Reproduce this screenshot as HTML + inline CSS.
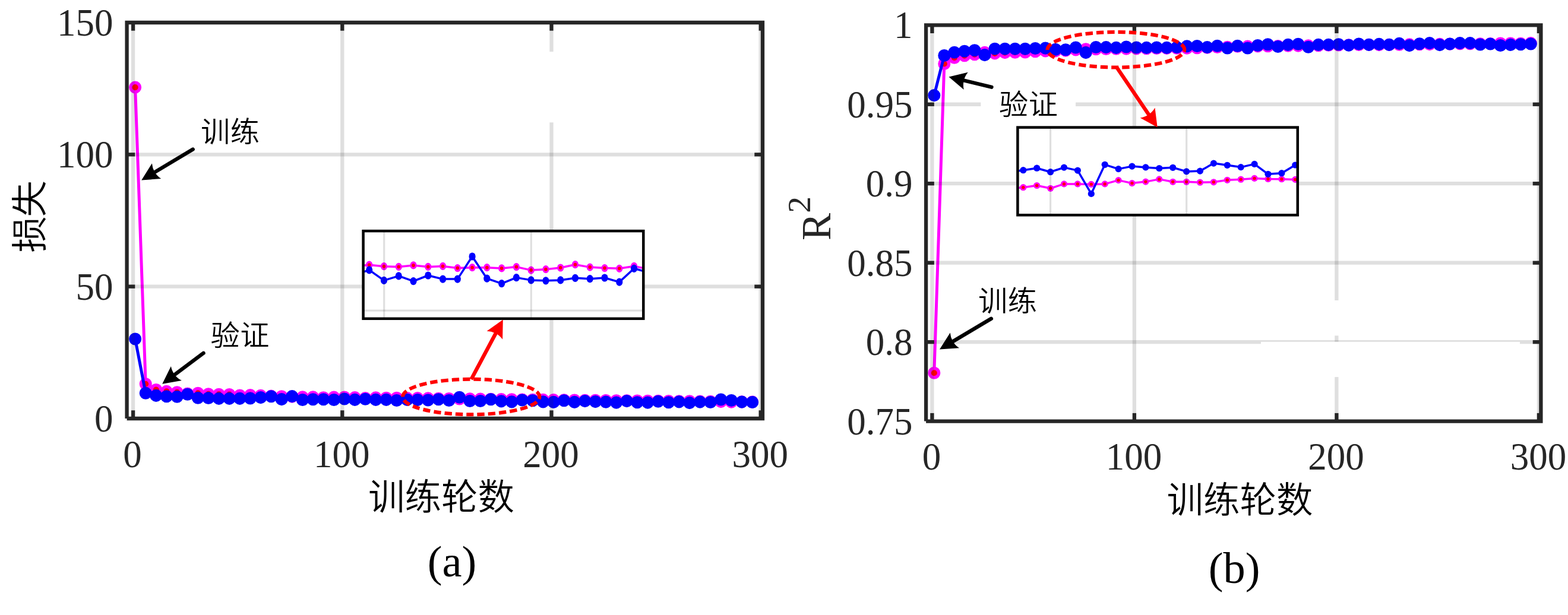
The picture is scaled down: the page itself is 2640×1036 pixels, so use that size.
<!DOCTYPE html>
<html lang="zh-CN"><head><meta charset="utf-8"><title>训练与验证曲线</title>
<style>html,body{margin:0;padding:0;background:#fff;}body{width:2640px;height:1036px;overflow:hidden;}svg{display:block;}text{white-space:pre;}</style>
</head><body>
<svg width="2640" height="1036" viewBox="0 0 2640 1036">
<rect x="0" y="0" width="2640" height="1036" fill="#ffffff"/>
<g>
<polyline points="227.62,147.1 245.23,646.8 262.84,656.5 280.45,659.4 298.06,660.8 315.67,663 333.28,662.3 350.89,663.7 368.5,664.3 386.11,664.5 403.72,666 421.33,665.6 438.94,666.4 456.55,667.1 474.16,667.7 491.77,668.1 509.38,668.9 526.99,668.9 544.6,669.7 562.21,669.1 579.82,669 597.43,669.6 615.04,670.6 632.65,669.9 650.26,670.3 667.87,670.3 685.48,670.6 703.09,670.6 720.7,670.9 738.31,671.2 755.92,671.5 773.53,672 791.14,671.9 808.75,672.1 826.36,672.3 843.97,672.6 861.58,672.8 879.19,673 896.8,673.2 914.41,673.4 932.02,673.6 949.63,673.8 967.24,674 984.85,674.2 1002.46,674.3 1020.07,674.5 1037.68,674.7 1055.29,674.8 1072.9,675 1090.51,675.2 1108.12,675.3 1125.73,675.5 1143.34,675.7 1160.95,675.8 1178.56,676 1196.17,676.2 1213.78,676.6 1231.39,677.1 1249,676.9 1266.61,677.1" fill="none" stroke="#ff00ff" stroke-width="5" stroke-linejoin="round" />
<circle cx="227.62" cy="147.1" r="7.8" fill="#ff0000" stroke="#ff00ff" stroke-width="5.5"/>
<circle cx="245.23" cy="646.8" r="7.8" fill="#ff0000" stroke="#ff00ff" stroke-width="5.5"/>
<circle cx="262.84" cy="656.5" r="7.8" fill="#ff0000" stroke="#ff00ff" stroke-width="5.5"/>
<circle cx="280.45" cy="659.4" r="7.8" fill="#ff0000" stroke="#ff00ff" stroke-width="5.5"/>
<circle cx="298.06" cy="660.8" r="7.8" fill="#ff0000" stroke="#ff00ff" stroke-width="5.5"/>
<circle cx="315.67" cy="663" r="7.8" fill="#ff0000" stroke="#ff00ff" stroke-width="5.5"/>
<circle cx="333.28" cy="662.3" r="7.8" fill="#ff0000" stroke="#ff00ff" stroke-width="5.5"/>
<circle cx="350.89" cy="663.7" r="7.8" fill="#ff0000" stroke="#ff00ff" stroke-width="5.5"/>
<circle cx="368.5" cy="664.3" r="7.8" fill="#ff0000" stroke="#ff00ff" stroke-width="5.5"/>
<circle cx="386.11" cy="664.5" r="7.8" fill="#ff0000" stroke="#ff00ff" stroke-width="5.5"/>
<circle cx="403.72" cy="666" r="7.8" fill="#ff0000" stroke="#ff00ff" stroke-width="5.5"/>
<circle cx="421.33" cy="665.6" r="7.8" fill="#ff0000" stroke="#ff00ff" stroke-width="5.5"/>
<circle cx="438.94" cy="666.4" r="7.8" fill="#ff0000" stroke="#ff00ff" stroke-width="5.5"/>
<circle cx="456.55" cy="667.1" r="7.8" fill="#ff0000" stroke="#ff00ff" stroke-width="5.5"/>
<circle cx="474.16" cy="667.7" r="7.8" fill="#ff0000" stroke="#ff00ff" stroke-width="5.5"/>
<circle cx="491.77" cy="668.1" r="7.8" fill="#ff0000" stroke="#ff00ff" stroke-width="5.5"/>
<circle cx="509.38" cy="668.9" r="7.8" fill="#ff0000" stroke="#ff00ff" stroke-width="5.5"/>
<circle cx="526.99" cy="668.9" r="7.8" fill="#ff0000" stroke="#ff00ff" stroke-width="5.5"/>
<circle cx="544.6" cy="669.7" r="7.8" fill="#ff0000" stroke="#ff00ff" stroke-width="5.5"/>
<circle cx="562.21" cy="669.1" r="7.8" fill="#ff0000" stroke="#ff00ff" stroke-width="5.5"/>
<circle cx="579.82" cy="669" r="7.8" fill="#ff0000" stroke="#ff00ff" stroke-width="5.5"/>
<circle cx="597.43" cy="669.6" r="7.8" fill="#ff0000" stroke="#ff00ff" stroke-width="5.5"/>
<circle cx="615.04" cy="670.6" r="7.8" fill="#ff0000" stroke="#ff00ff" stroke-width="5.5"/>
<circle cx="632.65" cy="669.9" r="7.8" fill="#ff0000" stroke="#ff00ff" stroke-width="5.5"/>
<circle cx="650.26" cy="670.3" r="7.8" fill="#ff0000" stroke="#ff00ff" stroke-width="5.5"/>
<circle cx="667.87" cy="670.3" r="7.8" fill="#ff0000" stroke="#ff00ff" stroke-width="5.5"/>
<circle cx="685.48" cy="670.6" r="7.8" fill="#ff0000" stroke="#ff00ff" stroke-width="5.5"/>
<circle cx="703.09" cy="670.6" r="7.8" fill="#ff0000" stroke="#ff00ff" stroke-width="5.5"/>
<circle cx="720.7" cy="670.9" r="7.8" fill="#ff0000" stroke="#ff00ff" stroke-width="5.5"/>
<circle cx="738.31" cy="671.2" r="7.8" fill="#ff0000" stroke="#ff00ff" stroke-width="5.5"/>
<circle cx="755.92" cy="671.5" r="7.8" fill="#ff0000" stroke="#ff00ff" stroke-width="5.5"/>
<circle cx="773.53" cy="672" r="7.8" fill="#ff0000" stroke="#ff00ff" stroke-width="5.5"/>
<circle cx="791.14" cy="671.9" r="7.8" fill="#ff0000" stroke="#ff00ff" stroke-width="5.5"/>
<circle cx="808.75" cy="672.1" r="7.8" fill="#ff0000" stroke="#ff00ff" stroke-width="5.5"/>
<circle cx="826.36" cy="672.3" r="7.8" fill="#ff0000" stroke="#ff00ff" stroke-width="5.5"/>
<circle cx="843.97" cy="672.6" r="7.8" fill="#ff0000" stroke="#ff00ff" stroke-width="5.5"/>
<circle cx="861.58" cy="672.8" r="7.8" fill="#ff0000" stroke="#ff00ff" stroke-width="5.5"/>
<circle cx="879.19" cy="673" r="7.8" fill="#ff0000" stroke="#ff00ff" stroke-width="5.5"/>
<circle cx="896.8" cy="673.2" r="7.8" fill="#ff0000" stroke="#ff00ff" stroke-width="5.5"/>
<circle cx="914.41" cy="673.4" r="7.8" fill="#ff0000" stroke="#ff00ff" stroke-width="5.5"/>
<circle cx="932.02" cy="673.6" r="7.8" fill="#ff0000" stroke="#ff00ff" stroke-width="5.5"/>
<circle cx="949.63" cy="673.8" r="7.8" fill="#ff0000" stroke="#ff00ff" stroke-width="5.5"/>
<circle cx="967.24" cy="674" r="7.8" fill="#ff0000" stroke="#ff00ff" stroke-width="5.5"/>
<circle cx="984.85" cy="674.2" r="7.8" fill="#ff0000" stroke="#ff00ff" stroke-width="5.5"/>
<circle cx="1002.46" cy="674.3" r="7.8" fill="#ff0000" stroke="#ff00ff" stroke-width="5.5"/>
<circle cx="1020.07" cy="674.5" r="7.8" fill="#ff0000" stroke="#ff00ff" stroke-width="5.5"/>
<circle cx="1037.68" cy="674.7" r="7.8" fill="#ff0000" stroke="#ff00ff" stroke-width="5.5"/>
<circle cx="1055.29" cy="674.8" r="7.8" fill="#ff0000" stroke="#ff00ff" stroke-width="5.5"/>
<circle cx="1072.9" cy="675" r="7.8" fill="#ff0000" stroke="#ff00ff" stroke-width="5.5"/>
<circle cx="1090.51" cy="675.2" r="7.8" fill="#ff0000" stroke="#ff00ff" stroke-width="5.5"/>
<circle cx="1108.12" cy="675.3" r="7.8" fill="#ff0000" stroke="#ff00ff" stroke-width="5.5"/>
<circle cx="1125.73" cy="675.5" r="7.8" fill="#ff0000" stroke="#ff00ff" stroke-width="5.5"/>
<circle cx="1143.34" cy="675.7" r="7.8" fill="#ff0000" stroke="#ff00ff" stroke-width="5.5"/>
<circle cx="1160.95" cy="675.8" r="7.8" fill="#ff0000" stroke="#ff00ff" stroke-width="5.5"/>
<circle cx="1178.56" cy="676" r="7.8" fill="#ff0000" stroke="#ff00ff" stroke-width="5.5"/>
<circle cx="1196.17" cy="676.2" r="7.8" fill="#ff0000" stroke="#ff00ff" stroke-width="5.5"/>
<circle cx="1213.78" cy="676.6" r="7.8" fill="#ff0000" stroke="#ff00ff" stroke-width="5.5"/>
<circle cx="1231.39" cy="677.1" r="7.8" fill="#ff0000" stroke="#ff00ff" stroke-width="5.5"/>
<circle cx="1249" cy="676.9" r="7.8" fill="#ff0000" stroke="#ff00ff" stroke-width="5.5"/>
<circle cx="1266.61" cy="677.1" r="7.8" fill="#ff0000" stroke="#ff00ff" stroke-width="5.5"/>
<polyline points="227.62,571 245.23,662.3 262.84,666.4 280.45,667.8 298.06,668.2 315.67,664.3 333.28,670.3 350.89,670.5 368.5,671.4 386.11,671.4 403.72,671.4 421.33,671 438.94,669.6 456.55,667.8 474.16,672.6 491.77,667.6 509.38,673.5 526.99,672.8 544.6,672.8 562.21,673.5 579.82,672 597.43,673.4 615.04,672.2 632.65,673.4 650.26,673.4 667.87,674.5 685.48,673.4 703.09,673.6 720.7,674 738.31,672.7 755.92,674.5 773.53,669.2 791.14,675.5 808.75,675.5 826.36,672.7 843.97,675.9 861.58,676.9 879.19,674 896.8,674.8 914.41,676.9 932.02,677.4 949.63,674.8 967.24,677.4 984.85,675.6 1002.46,676.6 1020.07,677.1 1037.68,678.1 1055.29,675.6 1072.9,677.8 1090.51,678.1 1108.12,676.3 1125.73,677.8 1143.34,676.9 1160.95,678.6 1178.56,677.1 1196.17,677.5 1213.78,673 1231.39,674.5 1249,677.1 1266.61,677.5" fill="none" stroke="#0000ff" stroke-width="5" stroke-linejoin="round" />
<circle cx="227.62" cy="571" r="7.8" fill="#0000ff" stroke="#0000ff" stroke-width="5.5"/>
<circle cx="245.23" cy="662.3" r="7.8" fill="#0000ff" stroke="#0000ff" stroke-width="5.5"/>
<circle cx="262.84" cy="666.4" r="7.8" fill="#0000ff" stroke="#0000ff" stroke-width="5.5"/>
<circle cx="280.45" cy="667.8" r="7.8" fill="#0000ff" stroke="#0000ff" stroke-width="5.5"/>
<circle cx="298.06" cy="668.2" r="7.8" fill="#0000ff" stroke="#0000ff" stroke-width="5.5"/>
<circle cx="315.67" cy="664.3" r="7.8" fill="#0000ff" stroke="#0000ff" stroke-width="5.5"/>
<circle cx="333.28" cy="670.3" r="7.8" fill="#0000ff" stroke="#0000ff" stroke-width="5.5"/>
<circle cx="350.89" cy="670.5" r="7.8" fill="#0000ff" stroke="#0000ff" stroke-width="5.5"/>
<circle cx="368.5" cy="671.4" r="7.8" fill="#0000ff" stroke="#0000ff" stroke-width="5.5"/>
<circle cx="386.11" cy="671.4" r="7.8" fill="#0000ff" stroke="#0000ff" stroke-width="5.5"/>
<circle cx="403.72" cy="671.4" r="7.8" fill="#0000ff" stroke="#0000ff" stroke-width="5.5"/>
<circle cx="421.33" cy="671" r="7.8" fill="#0000ff" stroke="#0000ff" stroke-width="5.5"/>
<circle cx="438.94" cy="669.6" r="7.8" fill="#0000ff" stroke="#0000ff" stroke-width="5.5"/>
<circle cx="456.55" cy="667.8" r="7.8" fill="#0000ff" stroke="#0000ff" stroke-width="5.5"/>
<circle cx="474.16" cy="672.6" r="7.8" fill="#0000ff" stroke="#0000ff" stroke-width="5.5"/>
<circle cx="491.77" cy="667.6" r="7.8" fill="#0000ff" stroke="#0000ff" stroke-width="5.5"/>
<circle cx="509.38" cy="673.5" r="7.8" fill="#0000ff" stroke="#0000ff" stroke-width="5.5"/>
<circle cx="526.99" cy="672.8" r="7.8" fill="#0000ff" stroke="#0000ff" stroke-width="5.5"/>
<circle cx="544.6" cy="672.8" r="7.8" fill="#0000ff" stroke="#0000ff" stroke-width="5.5"/>
<circle cx="562.21" cy="673.5" r="7.8" fill="#0000ff" stroke="#0000ff" stroke-width="5.5"/>
<circle cx="579.82" cy="672" r="7.8" fill="#0000ff" stroke="#0000ff" stroke-width="5.5"/>
<circle cx="597.43" cy="673.4" r="7.8" fill="#0000ff" stroke="#0000ff" stroke-width="5.5"/>
<circle cx="615.04" cy="672.2" r="7.8" fill="#0000ff" stroke="#0000ff" stroke-width="5.5"/>
<circle cx="632.65" cy="673.4" r="7.8" fill="#0000ff" stroke="#0000ff" stroke-width="5.5"/>
<circle cx="650.26" cy="673.4" r="7.8" fill="#0000ff" stroke="#0000ff" stroke-width="5.5"/>
<circle cx="667.87" cy="674.5" r="7.8" fill="#0000ff" stroke="#0000ff" stroke-width="5.5"/>
<circle cx="685.48" cy="673.4" r="7.8" fill="#0000ff" stroke="#0000ff" stroke-width="5.5"/>
<circle cx="703.09" cy="673.6" r="7.8" fill="#0000ff" stroke="#0000ff" stroke-width="5.5"/>
<circle cx="720.7" cy="674" r="7.8" fill="#0000ff" stroke="#0000ff" stroke-width="5.5"/>
<circle cx="738.31" cy="672.7" r="7.8" fill="#0000ff" stroke="#0000ff" stroke-width="5.5"/>
<circle cx="755.92" cy="674.5" r="7.8" fill="#0000ff" stroke="#0000ff" stroke-width="5.5"/>
<circle cx="773.53" cy="669.2" r="7.8" fill="#0000ff" stroke="#0000ff" stroke-width="5.5"/>
<circle cx="791.14" cy="675.5" r="7.8" fill="#0000ff" stroke="#0000ff" stroke-width="5.5"/>
<circle cx="808.75" cy="675.5" r="7.8" fill="#0000ff" stroke="#0000ff" stroke-width="5.5"/>
<circle cx="826.36" cy="672.7" r="7.8" fill="#0000ff" stroke="#0000ff" stroke-width="5.5"/>
<circle cx="843.97" cy="675.9" r="7.8" fill="#0000ff" stroke="#0000ff" stroke-width="5.5"/>
<circle cx="861.58" cy="676.9" r="7.8" fill="#0000ff" stroke="#0000ff" stroke-width="5.5"/>
<circle cx="879.19" cy="674" r="7.8" fill="#0000ff" stroke="#0000ff" stroke-width="5.5"/>
<circle cx="896.8" cy="674.8" r="7.8" fill="#0000ff" stroke="#0000ff" stroke-width="5.5"/>
<circle cx="914.41" cy="676.9" r="7.8" fill="#0000ff" stroke="#0000ff" stroke-width="5.5"/>
<circle cx="932.02" cy="677.4" r="7.8" fill="#0000ff" stroke="#0000ff" stroke-width="5.5"/>
<circle cx="949.63" cy="674.8" r="7.8" fill="#0000ff" stroke="#0000ff" stroke-width="5.5"/>
<circle cx="967.24" cy="677.4" r="7.8" fill="#0000ff" stroke="#0000ff" stroke-width="5.5"/>
<circle cx="984.85" cy="675.6" r="7.8" fill="#0000ff" stroke="#0000ff" stroke-width="5.5"/>
<circle cx="1002.46" cy="676.6" r="7.8" fill="#0000ff" stroke="#0000ff" stroke-width="5.5"/>
<circle cx="1020.07" cy="677.1" r="7.8" fill="#0000ff" stroke="#0000ff" stroke-width="5.5"/>
<circle cx="1037.68" cy="678.1" r="7.8" fill="#0000ff" stroke="#0000ff" stroke-width="5.5"/>
<circle cx="1055.29" cy="675.6" r="7.8" fill="#0000ff" stroke="#0000ff" stroke-width="5.5"/>
<circle cx="1072.9" cy="677.8" r="7.8" fill="#0000ff" stroke="#0000ff" stroke-width="5.5"/>
<circle cx="1090.51" cy="678.1" r="7.8" fill="#0000ff" stroke="#0000ff" stroke-width="5.5"/>
<circle cx="1108.12" cy="676.3" r="7.8" fill="#0000ff" stroke="#0000ff" stroke-width="5.5"/>
<circle cx="1125.73" cy="677.8" r="7.8" fill="#0000ff" stroke="#0000ff" stroke-width="5.5"/>
<circle cx="1143.34" cy="676.9" r="7.8" fill="#0000ff" stroke="#0000ff" stroke-width="5.5"/>
<circle cx="1160.95" cy="678.6" r="7.8" fill="#0000ff" stroke="#0000ff" stroke-width="5.5"/>
<circle cx="1178.56" cy="677.1" r="7.8" fill="#0000ff" stroke="#0000ff" stroke-width="5.5"/>
<circle cx="1196.17" cy="677.5" r="7.8" fill="#0000ff" stroke="#0000ff" stroke-width="5.5"/>
<circle cx="1213.78" cy="673" r="7.8" fill="#0000ff" stroke="#0000ff" stroke-width="5.5"/>
<circle cx="1231.39" cy="674.5" r="7.8" fill="#0000ff" stroke="#0000ff" stroke-width="5.5"/>
<circle cx="1249" cy="677.1" r="7.8" fill="#0000ff" stroke="#0000ff" stroke-width="5.5"/>
<circle cx="1266.61" cy="677.5" r="7.8" fill="#0000ff" stroke="#0000ff" stroke-width="5.5"/>
</g>
<g stroke="rgba(38,38,38,0.15)" stroke-width="6.3" fill="none">
<line x1="224.1" y1="38" x2="224.1" y2="705"/>
<line x1="576.3" y1="38" x2="576.3" y2="705"/>
<line x1="928.5" y1="38" x2="928.5" y2="87.1"/>
<line x1="928.5" y1="206.3" x2="928.5" y2="705"/>
<line x1="1280.7" y1="38" x2="1280.7" y2="705"/>
<line x1="213.6" y1="482.67" x2="1284" y2="482.67"/>
<line x1="213.6" y1="260.33" x2="1284" y2="260.33"/>
</g>
<g stroke="#262626" stroke-width="6.3" fill="none" stroke-linecap="butt">
<path d="M213.6,705 V38 H1284 V705 H213.6" stroke-linejoin="miter"/>
<line x1="224.1" y1="38" x2="224.1" y2="51.7"/>
<line x1="224.1" y1="705" x2="224.1" y2="691.3"/>
<line x1="576.3" y1="38" x2="576.3" y2="51.7"/>
<line x1="576.3" y1="705" x2="576.3" y2="691.3"/>
<line x1="928.5" y1="38" x2="928.5" y2="51.7"/>
<line x1="928.5" y1="705" x2="928.5" y2="691.3"/>
<line x1="1280.7" y1="38" x2="1280.7" y2="51.7"/>
<line x1="1280.7" y1="705" x2="1280.7" y2="691.3"/>
<line x1="213.6" y1="482.67" x2="227.3" y2="482.67"/>
<line x1="1284" y1="482.67" x2="1270.3" y2="482.67"/>
<line x1="213.6" y1="260.33" x2="227.3" y2="260.33"/>
<line x1="1284" y1="260.33" x2="1270.3" y2="260.33"/>
</g>
<g>
<polyline points="1572.81,628.2 1589.83,107.5 1606.86,97.2 1623.88,93.8 1640.91,91.8 1657.93,88.4 1674.96,89.9 1691.98,88.6 1709.01,88.3 1726.03,88 1743.06,86.7 1760.08,85.9 1777.11,85.9 1794.13,85.1 1811.16,83.9 1828.18,82.7 1845.21,82.7 1862.23,82.5 1879.26,82.3 1896.28,82.1 1913.31,81.9 1930.33,81.7 1947.36,81.5 1964.38,81.4 1981.41,81.2 1998.43,81.1 2015.45,80.7 2032.48,80.3 2049.51,79.5 2066.53,79.3 2083.56,78.3 2100.58,78.1 2117.61,77.9 2134.63,77.7 2151.66,77.5 2168.68,77.3 2185.7,77.1 2202.73,76.9 2219.76,76.7 2236.78,76.3 2253.81,76 2270.83,75.7 2287.86,75.5 2304.88,75.3 2321.91,75.6 2338.93,75.4 2355.95,75.2 2372.98,74.9 2390.01,74.7 2407.03,74.6 2424.06,74.4 2441.08,74.1 2458.11,73.7 2475.13,73.7 2492.16,73.7 2509.18,73.6 2526.2,73 2543.23,73 2560.26,73.2 2577.28,72.6" fill="none" stroke="#ff00ff" stroke-width="5" stroke-linejoin="round" />
<circle cx="1572.81" cy="628.2" r="7.8" fill="#ff0000" stroke="#ff00ff" stroke-width="5.5"/>
<circle cx="1589.83" cy="107.5" r="7.8" fill="#ff0000" stroke="#ff00ff" stroke-width="5.5"/>
<circle cx="1606.86" cy="97.2" r="7.8" fill="#ff0000" stroke="#ff00ff" stroke-width="5.5"/>
<circle cx="1623.88" cy="93.8" r="7.8" fill="#ff0000" stroke="#ff00ff" stroke-width="5.5"/>
<circle cx="1640.91" cy="91.8" r="7.8" fill="#ff0000" stroke="#ff00ff" stroke-width="5.5"/>
<circle cx="1657.93" cy="88.4" r="7.8" fill="#ff0000" stroke="#ff00ff" stroke-width="5.5"/>
<circle cx="1674.96" cy="89.9" r="7.8" fill="#ff0000" stroke="#ff00ff" stroke-width="5.5"/>
<circle cx="1691.98" cy="88.6" r="7.8" fill="#ff0000" stroke="#ff00ff" stroke-width="5.5"/>
<circle cx="1709.01" cy="88.3" r="7.8" fill="#ff0000" stroke="#ff00ff" stroke-width="5.5"/>
<circle cx="1726.03" cy="88" r="7.8" fill="#ff0000" stroke="#ff00ff" stroke-width="5.5"/>
<circle cx="1743.06" cy="86.7" r="7.8" fill="#ff0000" stroke="#ff00ff" stroke-width="5.5"/>
<circle cx="1760.08" cy="85.9" r="7.8" fill="#ff0000" stroke="#ff00ff" stroke-width="5.5"/>
<circle cx="1777.11" cy="85.9" r="7.8" fill="#ff0000" stroke="#ff00ff" stroke-width="5.5"/>
<circle cx="1794.13" cy="85.1" r="7.8" fill="#ff0000" stroke="#ff00ff" stroke-width="5.5"/>
<circle cx="1811.16" cy="83.9" r="7.8" fill="#ff0000" stroke="#ff00ff" stroke-width="5.5"/>
<circle cx="1828.18" cy="82.7" r="7.8" fill="#ff0000" stroke="#ff00ff" stroke-width="5.5"/>
<circle cx="1845.21" cy="82.7" r="7.8" fill="#ff0000" stroke="#ff00ff" stroke-width="5.5"/>
<circle cx="1862.23" cy="82.5" r="7.8" fill="#ff0000" stroke="#ff00ff" stroke-width="5.5"/>
<circle cx="1879.26" cy="82.3" r="7.8" fill="#ff0000" stroke="#ff00ff" stroke-width="5.5"/>
<circle cx="1896.28" cy="82.1" r="7.8" fill="#ff0000" stroke="#ff00ff" stroke-width="5.5"/>
<circle cx="1913.31" cy="81.9" r="7.8" fill="#ff0000" stroke="#ff00ff" stroke-width="5.5"/>
<circle cx="1930.33" cy="81.7" r="7.8" fill="#ff0000" stroke="#ff00ff" stroke-width="5.5"/>
<circle cx="1947.36" cy="81.5" r="7.8" fill="#ff0000" stroke="#ff00ff" stroke-width="5.5"/>
<circle cx="1964.38" cy="81.4" r="7.8" fill="#ff0000" stroke="#ff00ff" stroke-width="5.5"/>
<circle cx="1981.41" cy="81.2" r="7.8" fill="#ff0000" stroke="#ff00ff" stroke-width="5.5"/>
<circle cx="1998.43" cy="81.1" r="7.8" fill="#ff0000" stroke="#ff00ff" stroke-width="5.5"/>
<circle cx="2015.45" cy="80.7" r="7.8" fill="#ff0000" stroke="#ff00ff" stroke-width="5.5"/>
<circle cx="2032.48" cy="80.3" r="7.8" fill="#ff0000" stroke="#ff00ff" stroke-width="5.5"/>
<circle cx="2049.51" cy="79.5" r="7.8" fill="#ff0000" stroke="#ff00ff" stroke-width="5.5"/>
<circle cx="2066.53" cy="79.3" r="7.8" fill="#ff0000" stroke="#ff00ff" stroke-width="5.5"/>
<circle cx="2083.56" cy="78.3" r="7.8" fill="#ff0000" stroke="#ff00ff" stroke-width="5.5"/>
<circle cx="2100.58" cy="78.1" r="7.8" fill="#ff0000" stroke="#ff00ff" stroke-width="5.5"/>
<circle cx="2117.61" cy="77.9" r="7.8" fill="#ff0000" stroke="#ff00ff" stroke-width="5.5"/>
<circle cx="2134.63" cy="77.7" r="7.8" fill="#ff0000" stroke="#ff00ff" stroke-width="5.5"/>
<circle cx="2151.66" cy="77.5" r="7.8" fill="#ff0000" stroke="#ff00ff" stroke-width="5.5"/>
<circle cx="2168.68" cy="77.3" r="7.8" fill="#ff0000" stroke="#ff00ff" stroke-width="5.5"/>
<circle cx="2185.7" cy="77.1" r="7.8" fill="#ff0000" stroke="#ff00ff" stroke-width="5.5"/>
<circle cx="2202.73" cy="76.9" r="7.8" fill="#ff0000" stroke="#ff00ff" stroke-width="5.5"/>
<circle cx="2219.76" cy="76.7" r="7.8" fill="#ff0000" stroke="#ff00ff" stroke-width="5.5"/>
<circle cx="2236.78" cy="76.3" r="7.8" fill="#ff0000" stroke="#ff00ff" stroke-width="5.5"/>
<circle cx="2253.81" cy="76" r="7.8" fill="#ff0000" stroke="#ff00ff" stroke-width="5.5"/>
<circle cx="2270.83" cy="75.7" r="7.8" fill="#ff0000" stroke="#ff00ff" stroke-width="5.5"/>
<circle cx="2287.86" cy="75.5" r="7.8" fill="#ff0000" stroke="#ff00ff" stroke-width="5.5"/>
<circle cx="2304.88" cy="75.3" r="7.8" fill="#ff0000" stroke="#ff00ff" stroke-width="5.5"/>
<circle cx="2321.91" cy="75.6" r="7.8" fill="#ff0000" stroke="#ff00ff" stroke-width="5.5"/>
<circle cx="2338.93" cy="75.4" r="7.8" fill="#ff0000" stroke="#ff00ff" stroke-width="5.5"/>
<circle cx="2355.95" cy="75.2" r="7.8" fill="#ff0000" stroke="#ff00ff" stroke-width="5.5"/>
<circle cx="2372.98" cy="74.9" r="7.8" fill="#ff0000" stroke="#ff00ff" stroke-width="5.5"/>
<circle cx="2390.01" cy="74.7" r="7.8" fill="#ff0000" stroke="#ff00ff" stroke-width="5.5"/>
<circle cx="2407.03" cy="74.6" r="7.8" fill="#ff0000" stroke="#ff00ff" stroke-width="5.5"/>
<circle cx="2424.06" cy="74.4" r="7.8" fill="#ff0000" stroke="#ff00ff" stroke-width="5.5"/>
<circle cx="2441.08" cy="74.1" r="7.8" fill="#ff0000" stroke="#ff00ff" stroke-width="5.5"/>
<circle cx="2458.11" cy="73.7" r="7.8" fill="#ff0000" stroke="#ff00ff" stroke-width="5.5"/>
<circle cx="2475.13" cy="73.7" r="7.8" fill="#ff0000" stroke="#ff00ff" stroke-width="5.5"/>
<circle cx="2492.16" cy="73.7" r="7.8" fill="#ff0000" stroke="#ff00ff" stroke-width="5.5"/>
<circle cx="2509.18" cy="73.6" r="7.8" fill="#ff0000" stroke="#ff00ff" stroke-width="5.5"/>
<circle cx="2526.2" cy="73" r="7.8" fill="#ff0000" stroke="#ff00ff" stroke-width="5.5"/>
<circle cx="2543.23" cy="73" r="7.8" fill="#ff0000" stroke="#ff00ff" stroke-width="5.5"/>
<circle cx="2560.26" cy="73.2" r="7.8" fill="#ff0000" stroke="#ff00ff" stroke-width="5.5"/>
<circle cx="2577.28" cy="72.6" r="7.8" fill="#ff0000" stroke="#ff00ff" stroke-width="5.5"/>
<polyline points="1572.81,160.6 1589.83,93.5 1606.86,88.2 1623.88,86.3 1640.91,84.7 1657.93,92.6 1674.96,82.3 1691.98,82.3 1709.01,82.3 1726.03,82.2 1743.06,81.5 1760.08,81.1 1777.11,83.3 1794.13,83.8 1811.16,80 1828.18,88.6 1845.21,79.5 1862.23,79.6 1879.26,80.4 1896.28,79 1913.31,80 1930.33,80.4 1947.36,80 1964.38,80.4 1981.41,79.6 1998.43,77.9 2015.45,77.5 2032.48,79.6 2049.51,77.2 2066.53,81 2083.56,77.3 2100.58,81 2117.61,76.5 2134.63,74.7 2151.66,78.5 2168.68,75.4 2185.7,74.3 2202.73,79.2 2219.76,75.4 2236.78,75.4 2253.81,74.7 2270.83,76.1 2287.86,74 2304.88,75.4 2321.91,74.4 2338.93,75.4 2355.95,73.4 2372.98,76.6 2390.01,73.7 2407.03,72.6 2424.06,75.6 2441.08,74 2458.11,72.6 2475.13,72.6 2492.16,75 2509.18,74 2526.2,76.5 2543.23,75.4 2560.26,74.7 2577.28,74" fill="none" stroke="#0000ff" stroke-width="5" stroke-linejoin="round" />
<circle cx="1572.81" cy="160.6" r="7.8" fill="#0000ff" stroke="#0000ff" stroke-width="5.5"/>
<circle cx="1589.83" cy="93.5" r="7.8" fill="#0000ff" stroke="#0000ff" stroke-width="5.5"/>
<circle cx="1606.86" cy="88.2" r="7.8" fill="#0000ff" stroke="#0000ff" stroke-width="5.5"/>
<circle cx="1623.88" cy="86.3" r="7.8" fill="#0000ff" stroke="#0000ff" stroke-width="5.5"/>
<circle cx="1640.91" cy="84.7" r="7.8" fill="#0000ff" stroke="#0000ff" stroke-width="5.5"/>
<circle cx="1657.93" cy="92.6" r="7.8" fill="#0000ff" stroke="#0000ff" stroke-width="5.5"/>
<circle cx="1674.96" cy="82.3" r="7.8" fill="#0000ff" stroke="#0000ff" stroke-width="5.5"/>
<circle cx="1691.98" cy="82.3" r="7.8" fill="#0000ff" stroke="#0000ff" stroke-width="5.5"/>
<circle cx="1709.01" cy="82.3" r="7.8" fill="#0000ff" stroke="#0000ff" stroke-width="5.5"/>
<circle cx="1726.03" cy="82.2" r="7.8" fill="#0000ff" stroke="#0000ff" stroke-width="5.5"/>
<circle cx="1743.06" cy="81.5" r="7.8" fill="#0000ff" stroke="#0000ff" stroke-width="5.5"/>
<circle cx="1760.08" cy="81.1" r="7.8" fill="#0000ff" stroke="#0000ff" stroke-width="5.5"/>
<circle cx="1777.11" cy="83.3" r="7.8" fill="#0000ff" stroke="#0000ff" stroke-width="5.5"/>
<circle cx="1794.13" cy="83.8" r="7.8" fill="#0000ff" stroke="#0000ff" stroke-width="5.5"/>
<circle cx="1811.16" cy="80" r="7.8" fill="#0000ff" stroke="#0000ff" stroke-width="5.5"/>
<circle cx="1828.18" cy="88.6" r="7.8" fill="#0000ff" stroke="#0000ff" stroke-width="5.5"/>
<circle cx="1845.21" cy="79.5" r="7.8" fill="#0000ff" stroke="#0000ff" stroke-width="5.5"/>
<circle cx="1862.23" cy="79.6" r="7.8" fill="#0000ff" stroke="#0000ff" stroke-width="5.5"/>
<circle cx="1879.26" cy="80.4" r="7.8" fill="#0000ff" stroke="#0000ff" stroke-width="5.5"/>
<circle cx="1896.28" cy="79" r="7.8" fill="#0000ff" stroke="#0000ff" stroke-width="5.5"/>
<circle cx="1913.31" cy="80" r="7.8" fill="#0000ff" stroke="#0000ff" stroke-width="5.5"/>
<circle cx="1930.33" cy="80.4" r="7.8" fill="#0000ff" stroke="#0000ff" stroke-width="5.5"/>
<circle cx="1947.36" cy="80" r="7.8" fill="#0000ff" stroke="#0000ff" stroke-width="5.5"/>
<circle cx="1964.38" cy="80.4" r="7.8" fill="#0000ff" stroke="#0000ff" stroke-width="5.5"/>
<circle cx="1981.41" cy="79.6" r="7.8" fill="#0000ff" stroke="#0000ff" stroke-width="5.5"/>
<circle cx="1998.43" cy="77.9" r="7.8" fill="#0000ff" stroke="#0000ff" stroke-width="5.5"/>
<circle cx="2015.45" cy="77.5" r="7.8" fill="#0000ff" stroke="#0000ff" stroke-width="5.5"/>
<circle cx="2032.48" cy="79.6" r="7.8" fill="#0000ff" stroke="#0000ff" stroke-width="5.5"/>
<circle cx="2049.51" cy="77.2" r="7.8" fill="#0000ff" stroke="#0000ff" stroke-width="5.5"/>
<circle cx="2066.53" cy="81" r="7.8" fill="#0000ff" stroke="#0000ff" stroke-width="5.5"/>
<circle cx="2083.56" cy="77.3" r="7.8" fill="#0000ff" stroke="#0000ff" stroke-width="5.5"/>
<circle cx="2100.58" cy="81" r="7.8" fill="#0000ff" stroke="#0000ff" stroke-width="5.5"/>
<circle cx="2117.61" cy="76.5" r="7.8" fill="#0000ff" stroke="#0000ff" stroke-width="5.5"/>
<circle cx="2134.63" cy="74.7" r="7.8" fill="#0000ff" stroke="#0000ff" stroke-width="5.5"/>
<circle cx="2151.66" cy="78.5" r="7.8" fill="#0000ff" stroke="#0000ff" stroke-width="5.5"/>
<circle cx="2168.68" cy="75.4" r="7.8" fill="#0000ff" stroke="#0000ff" stroke-width="5.5"/>
<circle cx="2185.7" cy="74.3" r="7.8" fill="#0000ff" stroke="#0000ff" stroke-width="5.5"/>
<circle cx="2202.73" cy="79.2" r="7.8" fill="#0000ff" stroke="#0000ff" stroke-width="5.5"/>
<circle cx="2219.76" cy="75.4" r="7.8" fill="#0000ff" stroke="#0000ff" stroke-width="5.5"/>
<circle cx="2236.78" cy="75.4" r="7.8" fill="#0000ff" stroke="#0000ff" stroke-width="5.5"/>
<circle cx="2253.81" cy="74.7" r="7.8" fill="#0000ff" stroke="#0000ff" stroke-width="5.5"/>
<circle cx="2270.83" cy="76.1" r="7.8" fill="#0000ff" stroke="#0000ff" stroke-width="5.5"/>
<circle cx="2287.86" cy="74" r="7.8" fill="#0000ff" stroke="#0000ff" stroke-width="5.5"/>
<circle cx="2304.88" cy="75.4" r="7.8" fill="#0000ff" stroke="#0000ff" stroke-width="5.5"/>
<circle cx="2321.91" cy="74.4" r="7.8" fill="#0000ff" stroke="#0000ff" stroke-width="5.5"/>
<circle cx="2338.93" cy="75.4" r="7.8" fill="#0000ff" stroke="#0000ff" stroke-width="5.5"/>
<circle cx="2355.95" cy="73.4" r="7.8" fill="#0000ff" stroke="#0000ff" stroke-width="5.5"/>
<circle cx="2372.98" cy="76.6" r="7.8" fill="#0000ff" stroke="#0000ff" stroke-width="5.5"/>
<circle cx="2390.01" cy="73.7" r="7.8" fill="#0000ff" stroke="#0000ff" stroke-width="5.5"/>
<circle cx="2407.03" cy="72.6" r="7.8" fill="#0000ff" stroke="#0000ff" stroke-width="5.5"/>
<circle cx="2424.06" cy="75.6" r="7.8" fill="#0000ff" stroke="#0000ff" stroke-width="5.5"/>
<circle cx="2441.08" cy="74" r="7.8" fill="#0000ff" stroke="#0000ff" stroke-width="5.5"/>
<circle cx="2458.11" cy="72.6" r="7.8" fill="#0000ff" stroke="#0000ff" stroke-width="5.5"/>
<circle cx="2475.13" cy="72.6" r="7.8" fill="#0000ff" stroke="#0000ff" stroke-width="5.5"/>
<circle cx="2492.16" cy="75" r="7.8" fill="#0000ff" stroke="#0000ff" stroke-width="5.5"/>
<circle cx="2509.18" cy="74" r="7.8" fill="#0000ff" stroke="#0000ff" stroke-width="5.5"/>
<circle cx="2526.2" cy="76.5" r="7.8" fill="#0000ff" stroke="#0000ff" stroke-width="5.5"/>
<circle cx="2543.23" cy="75.4" r="7.8" fill="#0000ff" stroke="#0000ff" stroke-width="5.5"/>
<circle cx="2560.26" cy="74.7" r="7.8" fill="#0000ff" stroke="#0000ff" stroke-width="5.5"/>
<circle cx="2577.28" cy="74" r="7.8" fill="#0000ff" stroke="#0000ff" stroke-width="5.5"/>
</g>
<g stroke="rgba(38,38,38,0.15)" stroke-width="6.3" fill="none">
<line x1="1569.4" y1="42.3" x2="1569.4" y2="709.6"/>
<line x1="1909.9" y1="42.3" x2="1909.9" y2="709.6"/>
<line x1="2250.4" y1="42.3" x2="2250.4" y2="506"/>
<line x1="2250.4" y1="565.4" x2="2250.4" y2="575.8"/>
<line x1="2250.4" y1="635.1" x2="2250.4" y2="709.6"/>
<line x1="2590.9" y1="42.3" x2="2590.9" y2="709.6"/>
<line x1="1559.1" y1="576.14" x2="2594.4" y2="576.14"/>
<line x1="1559.1" y1="442.68" x2="2594.4" y2="442.68"/>
<line x1="1559.1" y1="309.22" x2="2594.4" y2="309.22"/>
<line x1="1559.1" y1="175.76" x2="1651.3" y2="175.76"/>
<line x1="1811.1" y1="175.76" x2="2594.4" y2="175.76"/>
</g>
<rect x="2123" y="575.8" width="436" height="4" fill="#fff"/>
<g stroke="#262626" stroke-width="6.3" fill="none" stroke-linecap="butt">
<path d="M1559.1,709.6 V42.3 H2594.4 V709.6 H1559.1" stroke-linejoin="miter"/>
<line x1="1569.4" y1="42.3" x2="1569.4" y2="56"/>
<line x1="1569.4" y1="709.6" x2="1569.4" y2="695.9"/>
<line x1="1909.9" y1="42.3" x2="1909.9" y2="56"/>
<line x1="1909.9" y1="709.6" x2="1909.9" y2="695.9"/>
<line x1="2250.4" y1="42.3" x2="2250.4" y2="56"/>
<line x1="2250.4" y1="709.6" x2="2250.4" y2="695.9"/>
<line x1="2590.9" y1="42.3" x2="2590.9" y2="56"/>
<line x1="2590.9" y1="709.6" x2="2590.9" y2="695.9"/>
<line x1="1559.1" y1="576.14" x2="1572.8" y2="576.14"/>
<line x1="2594.4" y1="576.14" x2="2580.7" y2="576.14"/>
<line x1="1559.1" y1="442.68" x2="1572.8" y2="442.68"/>
<line x1="2594.4" y1="442.68" x2="2580.7" y2="442.68"/>
<line x1="1559.1" y1="309.22" x2="1572.8" y2="309.22"/>
<line x1="2594.4" y1="309.22" x2="2580.7" y2="309.22"/>
<line x1="1559.1" y1="175.76" x2="1572.8" y2="175.76"/>
<line x1="2594.4" y1="175.76" x2="2580.7" y2="175.76"/>
</g>
<rect x="611.6" y="389.1" width="471.7" height="147.7" fill="#fff"/>
<clipPath id="c611"><rect x="611.6" y="389.1" width="471.7" height="147.7"/></clipPath>
<g clip-path="url(#c611)">
<polyline points="611.6,447.2 621.7,446.2 646.47,448.7 671.24,449.4 696.01,446.9 720.78,449.4 745.55,448.4 770.32,451.6 795.09,450.7 819.86,450.7 844.63,451.9 869.4,449.6 894.17,455.1 918.94,453.7 943.71,451 968.48,445.7 993.25,450.1 1018.02,451.6 1042.79,452.3 1067.56,448.4 1083.3,451.6" fill="none" stroke="#ff00ff" stroke-width="3.5" stroke-linejoin="round" />
<ellipse cx="621.7" cy="446.2" rx="5.6" ry="6.6" fill="#ff00ff"/>
<ellipse cx="646.47" cy="448.7" rx="5.6" ry="6.6" fill="#ff00ff"/>
<ellipse cx="671.24" cy="449.4" rx="5.6" ry="6.6" fill="#ff00ff"/>
<ellipse cx="696.01" cy="446.9" rx="5.6" ry="6.6" fill="#ff00ff"/>
<ellipse cx="720.78" cy="449.4" rx="5.6" ry="6.6" fill="#ff00ff"/>
<ellipse cx="745.55" cy="448.4" rx="5.6" ry="6.6" fill="#ff00ff"/>
<ellipse cx="770.32" cy="451.6" rx="5.6" ry="6.6" fill="#ff00ff"/>
<ellipse cx="795.09" cy="450.7" rx="5.6" ry="6.6" fill="#ff00ff"/>
<ellipse cx="819.86" cy="450.7" rx="5.6" ry="6.6" fill="#ff00ff"/>
<ellipse cx="844.63" cy="451.9" rx="5.6" ry="6.6" fill="#ff00ff"/>
<ellipse cx="869.4" cy="449.6" rx="5.6" ry="6.6" fill="#ff00ff"/>
<ellipse cx="894.17" cy="455.1" rx="5.6" ry="6.6" fill="#ff00ff"/>
<ellipse cx="918.94" cy="453.7" rx="5.6" ry="6.6" fill="#ff00ff"/>
<ellipse cx="943.71" cy="451" rx="5.6" ry="6.6" fill="#ff00ff"/>
<ellipse cx="968.48" cy="445.7" rx="5.6" ry="6.6" fill="#ff00ff"/>
<ellipse cx="993.25" cy="450.1" rx="5.6" ry="6.6" fill="#ff00ff"/>
<ellipse cx="1018.02" cy="451.6" rx="5.6" ry="6.6" fill="#ff00ff"/>
<ellipse cx="1042.79" cy="452.3" rx="5.6" ry="6.6" fill="#ff00ff"/>
<ellipse cx="1067.56" cy="448.4" rx="5.6" ry="6.6" fill="#ff00ff"/>
<ellipse cx="621.7" cy="446.2" rx="2.8" ry="3" fill="#ff0000"/>
<ellipse cx="646.47" cy="448.7" rx="2.8" ry="3" fill="#ff0000"/>
<ellipse cx="671.24" cy="449.4" rx="2.8" ry="3" fill="#ff0000"/>
<ellipse cx="696.01" cy="446.9" rx="2.8" ry="3" fill="#ff0000"/>
<ellipse cx="720.78" cy="449.4" rx="2.8" ry="3" fill="#ff0000"/>
<ellipse cx="745.55" cy="448.4" rx="2.8" ry="3" fill="#ff0000"/>
<ellipse cx="770.32" cy="451.6" rx="2.8" ry="3" fill="#ff0000"/>
<ellipse cx="795.09" cy="450.7" rx="2.8" ry="3" fill="#ff0000"/>
<ellipse cx="819.86" cy="450.7" rx="2.8" ry="3" fill="#ff0000"/>
<ellipse cx="844.63" cy="451.9" rx="2.8" ry="3" fill="#ff0000"/>
<ellipse cx="869.4" cy="449.6" rx="2.8" ry="3" fill="#ff0000"/>
<ellipse cx="894.17" cy="455.1" rx="2.8" ry="3" fill="#ff0000"/>
<ellipse cx="918.94" cy="453.7" rx="2.8" ry="3" fill="#ff0000"/>
<ellipse cx="943.71" cy="451" rx="2.8" ry="3" fill="#ff0000"/>
<ellipse cx="968.48" cy="445.7" rx="2.8" ry="3" fill="#ff0000"/>
<ellipse cx="993.25" cy="450.1" rx="2.8" ry="3" fill="#ff0000"/>
<ellipse cx="1018.02" cy="451.6" rx="2.8" ry="3" fill="#ff0000"/>
<ellipse cx="1042.79" cy="452.3" rx="2.8" ry="3" fill="#ff0000"/>
<ellipse cx="1067.56" cy="448.4" rx="2.8" ry="3" fill="#ff0000"/>
<polyline points="611.6,458.2 621.7,454.9 646.47,472.4 671.24,464.9 696.01,473.7 720.78,464 745.55,470.1 770.32,470.1 795.09,432 819.86,469.2 844.63,477.6 869.4,467.6 894.17,471.9 918.94,472.8 943.71,471.9 968.48,468.3 993.25,469.7 1018.02,468 1042.79,475.1 1067.56,452.3 1083.3,456.6" fill="none" stroke="#0000ff" stroke-width="3.5" stroke-linejoin="round" />
<ellipse cx="621.7" cy="454.9" rx="5.6" ry="6.6" fill="#0000ff"/>
<ellipse cx="646.47" cy="472.4" rx="5.6" ry="6.6" fill="#0000ff"/>
<ellipse cx="671.24" cy="464.9" rx="5.6" ry="6.6" fill="#0000ff"/>
<ellipse cx="696.01" cy="473.7" rx="5.6" ry="6.6" fill="#0000ff"/>
<ellipse cx="720.78" cy="464" rx="5.6" ry="6.6" fill="#0000ff"/>
<ellipse cx="745.55" cy="470.1" rx="5.6" ry="6.6" fill="#0000ff"/>
<ellipse cx="770.32" cy="470.1" rx="5.6" ry="6.6" fill="#0000ff"/>
<ellipse cx="795.09" cy="432" rx="5.6" ry="6.6" fill="#0000ff"/>
<ellipse cx="819.86" cy="469.2" rx="5.6" ry="6.6" fill="#0000ff"/>
<ellipse cx="844.63" cy="477.6" rx="5.6" ry="6.6" fill="#0000ff"/>
<ellipse cx="869.4" cy="467.6" rx="5.6" ry="6.6" fill="#0000ff"/>
<ellipse cx="894.17" cy="471.9" rx="5.6" ry="6.6" fill="#0000ff"/>
<ellipse cx="918.94" cy="472.8" rx="5.6" ry="6.6" fill="#0000ff"/>
<ellipse cx="943.71" cy="471.9" rx="5.6" ry="6.6" fill="#0000ff"/>
<ellipse cx="968.48" cy="468.3" rx="5.6" ry="6.6" fill="#0000ff"/>
<ellipse cx="993.25" cy="469.7" rx="5.6" ry="6.6" fill="#0000ff"/>
<ellipse cx="1018.02" cy="468" rx="5.6" ry="6.6" fill="#0000ff"/>
<ellipse cx="1042.79" cy="475.1" rx="5.6" ry="6.6" fill="#0000ff"/>
<ellipse cx="1067.56" cy="452.3" rx="5.6" ry="6.6" fill="#0000ff"/>
<g stroke="rgba(38,38,38,0.15)" stroke-width="3.2">
<line x1="646.7" y1="389.1" x2="646.7" y2="536.8"/>
<line x1="894.3" y1="389.1" x2="894.3" y2="536.8"/>
<line x1="611.6" y1="523.2" x2="1083.3" y2="523.2"/>
</g></g>
<rect x="611.6" y="389.1" width="471.7" height="147.7" fill="none" stroke="#000" stroke-width="4.5"/>
<rect x="1713.4" y="214.6" width="471.4" height="147.7" fill="#fff"/>
<clipPath id="c1713"><rect x="1713.4" y="214.6" width="471.4" height="147.7"/></clipPath>
<g clip-path="url(#c1713)">
<polyline points="1713.4,316.5 1722.8,315.7 1745.7,312.5 1768.6,317.3 1791.5,309.9 1814.4,309.9 1837.3,310.4 1860.2,309.9 1883.1,303.6 1906,308.6 1928.9,306.1 1951.8,301.9 1974.7,306.3 1997.6,306.3 2020.5,307.2 2043.4,306.8 2066.3,303.3 2089.2,302.2 2112.1,300.4 2135,301.5 2157.9,301.7 2180.8,302.4 2184.8,302.5" fill="none" stroke="#ff00ff" stroke-width="3.5" stroke-linejoin="round" />
<circle cx="1722.8" cy="315.7" r="5.6" fill="#ff00ff"/>
<circle cx="1745.7" cy="312.5" r="5.6" fill="#ff00ff"/>
<circle cx="1768.6" cy="317.3" r="5.6" fill="#ff00ff"/>
<circle cx="1791.5" cy="309.9" r="5.6" fill="#ff00ff"/>
<circle cx="1814.4" cy="309.9" r="5.6" fill="#ff00ff"/>
<circle cx="1837.3" cy="310.4" r="5.6" fill="#ff00ff"/>
<circle cx="1860.2" cy="309.9" r="5.6" fill="#ff00ff"/>
<circle cx="1883.1" cy="303.6" r="5.6" fill="#ff00ff"/>
<circle cx="1906" cy="308.6" r="5.6" fill="#ff00ff"/>
<circle cx="1928.9" cy="306.1" r="5.6" fill="#ff00ff"/>
<circle cx="1951.8" cy="301.9" r="5.6" fill="#ff00ff"/>
<circle cx="1974.7" cy="306.3" r="5.6" fill="#ff00ff"/>
<circle cx="1997.6" cy="306.3" r="5.6" fill="#ff00ff"/>
<circle cx="2020.5" cy="307.2" r="5.6" fill="#ff00ff"/>
<circle cx="2043.4" cy="306.8" r="5.6" fill="#ff00ff"/>
<circle cx="2066.3" cy="303.3" r="5.6" fill="#ff00ff"/>
<circle cx="2089.2" cy="302.2" r="5.6" fill="#ff00ff"/>
<circle cx="2112.1" cy="300.4" r="5.6" fill="#ff00ff"/>
<circle cx="2135" cy="301.5" r="5.6" fill="#ff00ff"/>
<circle cx="2157.9" cy="301.7" r="5.6" fill="#ff00ff"/>
<circle cx="2180.8" cy="302.4" r="5.6" fill="#ff00ff"/>
<circle cx="1722.8" cy="315.7" r="2.7" fill="#ff0000"/>
<circle cx="1745.7" cy="312.5" r="2.7" fill="#ff0000"/>
<circle cx="1768.6" cy="317.3" r="2.7" fill="#ff0000"/>
<circle cx="1791.5" cy="309.9" r="2.7" fill="#ff0000"/>
<circle cx="1814.4" cy="309.9" r="2.7" fill="#ff0000"/>
<circle cx="1837.3" cy="310.4" r="2.7" fill="#ff0000"/>
<circle cx="1860.2" cy="309.9" r="2.7" fill="#ff0000"/>
<circle cx="1883.1" cy="303.6" r="2.7" fill="#ff0000"/>
<circle cx="1906" cy="308.6" r="2.7" fill="#ff0000"/>
<circle cx="1928.9" cy="306.1" r="2.7" fill="#ff0000"/>
<circle cx="1951.8" cy="301.9" r="2.7" fill="#ff0000"/>
<circle cx="1974.7" cy="306.3" r="2.7" fill="#ff0000"/>
<circle cx="1997.6" cy="306.3" r="2.7" fill="#ff0000"/>
<circle cx="2020.5" cy="307.2" r="2.7" fill="#ff0000"/>
<circle cx="2043.4" cy="306.8" r="2.7" fill="#ff0000"/>
<circle cx="2066.3" cy="303.3" r="2.7" fill="#ff0000"/>
<circle cx="2089.2" cy="302.2" r="2.7" fill="#ff0000"/>
<circle cx="2112.1" cy="300.4" r="2.7" fill="#ff0000"/>
<circle cx="2135" cy="301.5" r="2.7" fill="#ff0000"/>
<circle cx="2157.9" cy="301.7" r="2.7" fill="#ff0000"/>
<circle cx="2180.8" cy="302.4" r="2.7" fill="#ff0000"/>
<polyline points="1713.4,288 1722.8,286.7 1745.7,283.2 1768.6,289.7 1791.5,282.1 1814.4,287.1 1837.3,326.4 1860.2,277.3 1883.1,284.6 1906,280.1 1928.9,281.9 1951.8,283.5 1974.7,282.3 1997.6,288.9 2020.5,288.1 2043.4,275.1 2066.3,278.3 2089.2,281.6 2112.1,276.4 2135,293.3 2157.9,291.7 2180.8,278 2184.8,276.5" fill="none" stroke="#0000ff" stroke-width="3.5" stroke-linejoin="round" />
<circle cx="1722.8" cy="286.7" r="5.6" fill="#0000ff"/>
<circle cx="1745.7" cy="283.2" r="5.6" fill="#0000ff"/>
<circle cx="1768.6" cy="289.7" r="5.6" fill="#0000ff"/>
<circle cx="1791.5" cy="282.1" r="5.6" fill="#0000ff"/>
<circle cx="1814.4" cy="287.1" r="5.6" fill="#0000ff"/>
<circle cx="1837.3" cy="326.4" r="5.6" fill="#0000ff"/>
<circle cx="1860.2" cy="277.3" r="5.6" fill="#0000ff"/>
<circle cx="1883.1" cy="284.6" r="5.6" fill="#0000ff"/>
<circle cx="1906" cy="280.1" r="5.6" fill="#0000ff"/>
<circle cx="1928.9" cy="281.9" r="5.6" fill="#0000ff"/>
<circle cx="1951.8" cy="283.5" r="5.6" fill="#0000ff"/>
<circle cx="1974.7" cy="282.3" r="5.6" fill="#0000ff"/>
<circle cx="1997.6" cy="288.9" r="5.6" fill="#0000ff"/>
<circle cx="2020.5" cy="288.1" r="5.6" fill="#0000ff"/>
<circle cx="2043.4" cy="275.1" r="5.6" fill="#0000ff"/>
<circle cx="2066.3" cy="278.3" r="5.6" fill="#0000ff"/>
<circle cx="2089.2" cy="281.6" r="5.6" fill="#0000ff"/>
<circle cx="2112.1" cy="276.4" r="5.6" fill="#0000ff"/>
<circle cx="2135" cy="293.3" r="5.6" fill="#0000ff"/>
<circle cx="2157.9" cy="291.7" r="5.6" fill="#0000ff"/>
<circle cx="2180.8" cy="278" r="5.6" fill="#0000ff"/>
<g stroke="rgba(38,38,38,0.15)" stroke-width="3.2">
<line x1="1768.6" y1="214.6" x2="1768.6" y2="362.3"/>
<line x1="1997.7" y1="214.6" x2="1997.7" y2="362.3"/>
</g></g>
<rect x="1713.4" y="214.6" width="471.4" height="147.7" fill="none" stroke="#000" stroke-width="4.5"/>
<ellipse cx="793.2" cy="668.5" rx="115.2" ry="29.8" fill="none" stroke="#ff0000" stroke-width="6" stroke-dasharray="12.3 6" stroke-dashoffset="8.5"/>
<ellipse cx="1878.9" cy="83.7" rx="115.4" ry="29.8" fill="none" stroke="#ff0000" stroke-width="6" stroke-dasharray="12.3 6" stroke-dashoffset="8.5"/>
<line x1="793.4" y1="639" x2="836" y2="558.91" stroke="#ff0000" stroke-width="6.3" stroke-linecap="butt"/>
<path d="M846.8,538.6 L846.14,571.78 Q841.78,565.61 834.59,561.56 Q827.21,557.86 819.66,557.69 Z" fill="#ff0000"/>
<line x1="1879.9" y1="112.9" x2="1935.8" y2="195.46" stroke="#ff0000" stroke-width="6.3" stroke-linecap="butt"/>
<path d="M1948.7,214.5 L1919.68,198.4 Q1927.18,197.43 1934.12,192.97 Q1940.84,188.18 1944.52,181.58 Z" fill="#ff0000"/>
<line x1="324.8" y1="251.5" x2="257.93" y2="291.58" stroke="#000" stroke-width="6.3" stroke-linecap="round"/>
<path d="M238.2,303.4 L255.88,275.32 Q256.43,282.86 260.5,290.03 Q264.91,297.01 271.3,301.05 Z" fill="#000"/>
<line x1="342.6" y1="594.8" x2="291.61" y2="633.01" stroke="#000" stroke-width="6.3" stroke-linecap="round"/>
<path d="M273.2,646.8 L287.89,617.05 Q289.22,624.49 294.01,631.21 Q299.11,637.69 305.88,641.06 Z" fill="#000"/>
<line x1="1669.5" y1="146.8" x2="1619.86" y2="134.8" stroke="#000" stroke-width="6.3" stroke-linecap="round"/>
<path d="M1597.5,129.4 L1629.8,121.77 Q1624.9,127.54 1622.77,135.51 Q1621.03,143.57 1622.75,150.93 Z" fill="#000"/>
<line x1="1668.9" y1="536.8" x2="1601.77" y2="576.74" stroke="#000" stroke-width="6.3" stroke-linecap="round"/>
<path d="M1582,588.5 L1599.77,560.47 Q1600.3,568.01 1604.34,575.21 Q1608.73,582.19 1615.11,586.26 Z" fill="#000"/>
<text transform="translate(338,238.6) scale(1.015,0.98)" font-family='"Liberation Sans", "Noto Sans CJK SC", sans-serif' font-size="48.5" fill="#000" text-anchor="start" font-weight="350" letter-spacing="0.5">训练</text>
<text transform="translate(354.5,582.4) scale(1.015,0.98)" font-family='"Liberation Sans", "Noto Sans CJK SC", sans-serif' font-size="48.5" fill="#000" text-anchor="start" font-weight="350" letter-spacing="0.5">验证</text>
<text transform="translate(1682,193) scale(1.015,0.98)" font-family='"Liberation Sans", "Noto Sans CJK SC", sans-serif' font-size="48.5" fill="#000" text-anchor="start" font-weight="350" letter-spacing="0.5">验证</text>
<text transform="translate(1647,523.6) scale(1.015,0.98)" font-family='"Liberation Sans", "Noto Sans CJK SC", sans-serif' font-size="48.5" fill="#000" text-anchor="start" font-weight="350" letter-spacing="0.5">训练</text>
<text transform="translate(190.5,727.1) scale(0.977,1)" font-family='"Liberation Serif", "Noto Serif CJK SC", serif' font-size="64.5" fill="#262626" text-anchor="end" >0</text>
<text transform="translate(190.5,504.77) scale(0.977,1)" font-family='"Liberation Serif", "Noto Serif CJK SC", serif' font-size="64.5" fill="#262626" text-anchor="end" >50</text>
<text transform="translate(190.5,282.43) scale(0.977,1)" font-family='"Liberation Serif", "Noto Serif CJK SC", serif' font-size="64.5" fill="#262626" text-anchor="end" >100</text>
<text transform="translate(190.5,60.1) scale(0.977,1)" font-family='"Liberation Serif", "Noto Serif CJK SC", serif' font-size="64.5" fill="#262626" text-anchor="end" >150</text>
<text transform="translate(223.1,786.5) scale(0.977,1)" font-family='"Liberation Serif", "Noto Serif CJK SC", serif' font-size="64.5" fill="#262626" text-anchor="middle" >0</text>
<text transform="translate(575.3,786.5) scale(0.977,1)" font-family='"Liberation Serif", "Noto Serif CJK SC", serif' font-size="64.5" fill="#262626" text-anchor="middle" >100</text>
<text transform="translate(927.5,786.5) scale(0.977,1)" font-family='"Liberation Serif", "Noto Serif CJK SC", serif' font-size="64.5" fill="#262626" text-anchor="middle" >200</text>
<text transform="translate(1279.7,786.5) scale(0.977,1)" font-family='"Liberation Serif", "Noto Serif CJK SC", serif' font-size="64.5" fill="#262626" text-anchor="middle" >300</text>
<text transform="translate(1536.6,731.6) scale(0.977,1)" font-family='"Liberation Serif", "Noto Serif CJK SC", serif' font-size="64.5" fill="#262626" text-anchor="end" >0.75</text>
<text transform="translate(1536.6,598.14) scale(0.977,1)" font-family='"Liberation Serif", "Noto Serif CJK SC", serif' font-size="64.5" fill="#262626" text-anchor="end" >0.8</text>
<text transform="translate(1536.6,464.68) scale(0.977,1)" font-family='"Liberation Serif", "Noto Serif CJK SC", serif' font-size="64.5" fill="#262626" text-anchor="end" >0.85</text>
<text transform="translate(1536.6,331.22) scale(0.977,1)" font-family='"Liberation Serif", "Noto Serif CJK SC", serif' font-size="64.5" fill="#262626" text-anchor="end" >0.9</text>
<text transform="translate(1536.6,197.76) scale(0.977,1)" font-family='"Liberation Serif", "Noto Serif CJK SC", serif' font-size="64.5" fill="#262626" text-anchor="end" >0.95</text>
<text transform="translate(1536.6,64.3) scale(0.977,1)" font-family='"Liberation Serif", "Noto Serif CJK SC", serif' font-size="64.5" fill="#262626" text-anchor="end" >1</text>
<text transform="translate(1568.4,791) scale(0.977,1)" font-family='"Liberation Serif", "Noto Serif CJK SC", serif' font-size="64.5" fill="#262626" text-anchor="middle" >0</text>
<text transform="translate(1908.9,791) scale(0.977,1)" font-family='"Liberation Serif", "Noto Serif CJK SC", serif' font-size="64.5" fill="#262626" text-anchor="middle" >100</text>
<text transform="translate(2249.4,791) scale(0.977,1)" font-family='"Liberation Serif", "Noto Serif CJK SC", serif' font-size="64.5" fill="#262626" text-anchor="middle" >200</text>
<text transform="translate(2589.9,791) scale(0.977,1)" font-family='"Liberation Serif", "Noto Serif CJK SC", serif' font-size="64.5" fill="#262626" text-anchor="middle" >300</text>
<text transform="translate(743,858.8)" font-family='"Liberation Sans", "Noto Sans CJK SC", sans-serif' font-size="61.5" fill="#000" text-anchor="middle" font-weight="350">训练轮数</text>
<text transform="translate(2087.5,863.6)" font-family='"Liberation Sans", "Noto Sans CJK SC", sans-serif' font-size="61.5" fill="#000" text-anchor="middle" font-weight="350">训练轮数</text>
<text transform="translate(71.6,365.4) rotate(-90)" font-family='"Liberation Sans", "Noto Sans CJK SC", sans-serif' font-size="61.5" fill="#000" text-anchor="middle" font-weight="350" letter-spacing="-1.5">损失</text>
<text transform="translate(1397.6,405) rotate(-90)" font-family='"Liberation Serif", "Noto Serif CJK SC", serif' font-size="69.3" fill="#262626">R<tspan font-size="55.4" dy="-33.5">2</tspan></text>
<text transform="translate(761,971)" font-family='"Liberation Serif", "Noto Serif CJK SC", serif' font-size="74.4" fill="#000" text-anchor="middle" >(a)</text>
<text transform="translate(2078.2,981.8)" font-family='"Liberation Serif", "Noto Serif CJK SC", serif' font-size="74.4" fill="#000" text-anchor="middle" >(b)</text>
</svg>
</body></html>
